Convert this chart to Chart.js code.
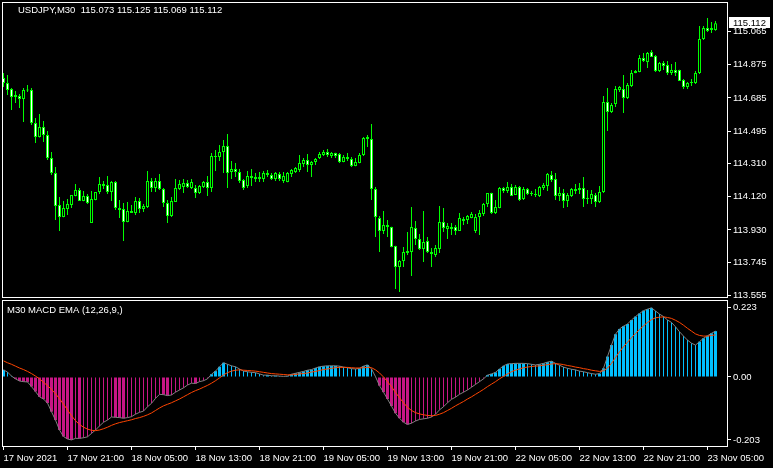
<!DOCTYPE html>
<html><head><meta charset="utf-8">
<script src="https://cdn.jsdelivr.net/npm/chart.js@4.4.1/dist/chart.umd.min.js"></script>
<style>
html,body{margin:0;padding:0;background:#000;overflow:hidden;}
#wrap{position:relative;width:773px;height:468px;background:#000;}
#c1{position:absolute;left:0;top:0;}
#c2{position:absolute;left:0;top:299px;}
</style></head><body>
<div id="wrap"><canvas id="c1" width="773" height="299"></canvas><canvas id="c2" width="773" height="169"></canvas></div>
<script>
const symbolTitle = "USDJPY,M30  115.073 115.125 115.069 115.112";
const macdTitle = "M30 MACD EMA (12,26,9,)";

const open = [
114.799,114.770,114.736,114.690,114.696,114.679,114.730,114.730,114.541,114.461,
114.519,114.473,114.341,114.255,114.073,114.004,114.050,114.073,114.124,114.158,
114.095,114.124,113.970,114.101,114.147,114.193,114.187,114.147,114.204,114.055,
114.050,113.975,114.038,114.027,114.095,114.050,114.061,114.210,114.170,114.210,
114.164,114.084,114.010,114.090,114.164,114.175,114.198,114.170,114.170,114.141,
114.175,114.204,114.170,114.353,114.347,114.376,114.410,114.261,114.278,114.261,
114.215,114.181,114.238,114.221,114.233,114.221,114.255,114.244,114.221,114.250,
114.210,114.204,114.250,114.261,114.273,114.307,114.330,114.301,114.318,114.341,
114.358,114.376,114.353,114.370,114.364,114.318,114.347,114.336,114.295,114.313,
114.358,114.461,114.450,114.164,113.998,113.924,113.958,113.947,113.838,113.718,
113.752,113.798,113.804,113.941,113.878,113.821,113.867,113.804,113.786,113.821,
113.975,113.935,113.947,113.947,113.924,113.992,113.987,113.998,113.924,114.004,
114.021,114.078,114.141,114.027,114.055,114.170,114.153,114.175,114.130,114.175,
114.107,114.164,114.135,114.135,114.124,114.170,114.181,114.244,114.221,114.124,
114.141,114.095,114.124,114.164,114.158,114.170,114.107,114.107,114.130,114.090,
114.147,114.662,114.604,114.650,114.730,114.736,114.685,114.753,114.827,114.833,
114.913,114.890,114.948,114.925,114.839,114.885,114.873,114.827,114.845,114.845,
114.787,114.747,114.770,114.770,114.827,115.022,115.085,115.073,115.073];
const high = [
114.827,114.816,114.742,114.725,114.707,114.742,114.759,114.742,114.570,114.593,
114.553,114.496,114.376,114.290,114.118,114.095,114.107,114.130,114.193,114.170,
114.153,114.135,114.153,114.147,114.233,114.210,114.238,114.210,114.210,114.101,
114.084,114.090,114.073,114.118,114.113,114.078,114.267,114.227,114.227,114.250,
114.170,114.101,114.118,114.221,114.215,114.221,114.215,114.221,114.187,114.187,
114.210,114.238,114.370,114.387,114.416,114.444,114.479,114.324,114.313,114.278,
114.221,114.267,114.278,114.255,114.261,114.267,114.273,114.255,114.261,114.261,
114.261,114.261,114.278,114.290,114.358,114.341,114.364,114.324,114.341,114.376,
114.387,114.393,114.376,114.371,114.370,114.358,114.370,114.347,114.341,114.370,
114.461,114.473,114.536,114.175,114.010,114.038,113.987,113.948,113.839,113.758,
113.832,113.918,114.061,113.981,113.907,114.038,113.889,113.826,113.844,114.067,
114.055,113.970,113.970,113.958,114.027,114.004,114.015,114.032,114.021,114.044,
114.084,114.141,114.142,114.101,114.175,114.175,114.204,114.193,114.187,114.181,
114.175,114.170,114.153,114.164,114.181,114.198,114.255,114.267,114.255,114.175,
114.164,114.141,114.170,114.193,114.198,114.233,114.158,114.158,114.141,114.181,
114.696,114.742,114.656,114.753,114.753,114.816,114.770,114.845,114.845,114.930,
114.942,114.948,114.959,114.930,114.890,114.896,114.896,114.879,114.890,114.846,
114.793,114.776,114.793,114.839,115.096,115.096,115.142,115.119,115.125];
const low = [
114.747,114.702,114.616,114.656,114.627,114.547,114.719,114.530,114.427,114.458,
114.433,114.330,114.244,113.987,113.924,114.003,114.015,114.055,114.123,114.095,
114.094,114.078,113.969,114.100,114.135,114.164,114.135,114.095,114.044,113.998,
113.867,113.974,114.027,114.015,114.027,114.032,114.055,114.147,114.147,114.158,
114.061,113.970,114.004,114.089,114.158,114.141,114.170,114.164,114.113,114.135,
114.170,114.124,114.147,114.267,114.324,114.255,114.170,114.221,114.233,114.198,
114.158,114.170,114.181,114.204,114.204,114.204,114.233,114.215,114.210,114.210,
114.198,114.203,114.233,114.255,114.261,114.290,114.261,114.233,114.301,114.336,
114.353,114.347,114.341,114.341,114.313,114.317,114.324,114.290,114.294,114.312,
114.353,114.404,114.101,113.889,113.804,113.907,113.889,113.831,113.592,113.575,
113.718,113.786,113.666,113.844,113.815,113.746,113.798,113.718,113.775,113.798,
113.918,113.878,113.901,113.901,113.923,113.958,113.964,113.997,113.912,113.901,
114.010,114.061,114.021,114.021,114.054,114.141,114.141,114.124,114.129,114.095,
114.101,114.130,114.124,114.118,114.118,114.158,114.153,114.204,114.101,114.095,
114.055,114.061,114.118,114.135,114.135,114.061,114.078,114.078,114.061,114.084,
114.141,114.496,114.599,114.633,114.719,114.599,114.679,114.747,114.826,114.832,
114.890,114.856,114.919,114.833,114.833,114.845,114.816,114.816,114.810,114.782,
114.736,114.736,114.753,114.765,114.822,115.016,115.062,115.056,115.069];
const close = [
114.770,114.730,114.690,114.702,114.679,114.730,114.728,114.541,114.461,114.519,
114.473,114.341,114.255,114.067,114.004,114.055,114.078,114.130,114.158,114.095,
114.124,114.084,114.107,114.147,114.193,114.181,114.147,114.204,114.055,114.044,
113.975,114.038,114.027,114.095,114.050,114.067,114.210,114.170,114.210,114.164,
114.084,114.010,114.095,114.170,114.193,114.198,114.175,114.204,114.141,114.181,
114.204,114.170,114.353,114.347,114.376,114.410,114.255,114.278,114.261,114.210,
114.170,114.238,114.227,114.233,114.221,114.255,114.244,114.221,114.255,114.221,
114.238,114.255,114.273,114.284,114.313,114.330,114.301,114.318,114.336,114.364,
114.376,114.358,114.370,114.353,114.318,114.347,114.336,114.295,114.318,114.358,
114.456,114.450,114.164,114.004,113.924,113.958,113.947,113.832,113.718,113.752,
113.804,113.809,113.947,113.878,113.821,113.861,113.804,113.792,113.826,113.975,
113.941,113.952,113.935,113.924,113.998,113.981,114.010,114.021,114.004,114.027,
114.078,114.141,114.027,114.061,114.170,114.153,114.175,114.124,114.175,114.101,
114.164,114.135,114.141,114.130,114.175,114.187,114.250,114.215,114.124,114.141,
114.095,114.130,114.164,114.153,114.170,114.107,114.113,114.135,114.090,114.147,
114.662,114.604,114.644,114.736,114.747,114.685,114.759,114.827,114.839,114.913,
114.896,114.942,114.919,114.839,114.885,114.867,114.827,114.845,114.827,114.782,
114.747,114.770,114.776,114.827,115.022,115.085,115.068,115.085,115.112];

const macd = [
0.023,0.016,0.003,-0.006,-0.013,-0.015,-0.016,-0.031,-0.047,-0.064,
-0.071,-0.084,-0.112,-0.139,-0.171,-0.192,-0.200,-0.203,-0.198,-0.198,
-0.196,-0.193,-0.182,-0.171,-0.158,-0.146,-0.139,-0.129,-0.130,-0.131,
-0.133,-0.131,-0.128,-0.120,-0.114,-0.110,-0.096,-0.085,-0.069,-0.056,
-0.057,-0.060,-0.058,-0.049,-0.042,-0.035,-0.026,-0.020,-0.021,-0.015,
-0.012,-0.006,0.009,0.019,0.033,0.046,0.041,0.036,0.033,0.026,
0.019,0.017,0.015,0.014,0.010,0.006,0.006,0.004,0.004,0.003,
0.002,0.003,0.009,0.012,0.015,0.018,0.022,0.024,0.029,0.033,
0.035,0.036,0.036,0.036,0.035,0.032,0.030,0.027,0.026,0.028,
0.035,0.039,0.026,0.001,-0.028,-0.049,-0.071,-0.094,-0.117,-0.133,
-0.146,-0.153,-0.149,-0.142,-0.137,-0.135,-0.133,-0.129,-0.120,-0.106,
-0.096,-0.083,-0.072,-0.065,-0.056,-0.049,-0.042,-0.033,-0.024,-0.015,
-0.006,0.006,0.010,0.015,0.026,0.036,0.042,0.043,0.044,0.044,
0.044,0.043,0.041,0.039,0.041,0.044,0.048,0.051,0.044,0.038,
0.032,0.028,0.025,0.023,0.019,0.017,0.014,0.011,0.009,0.011,
0.028,0.066,0.103,0.138,0.155,0.164,0.171,0.184,0.195,0.205,
0.214,0.219,0.223,0.213,0.203,0.195,0.184,0.176,0.162,0.146,
0.132,0.119,0.109,0.103,0.114,0.125,0.133,0.141,0.148];
const signal = [
0.052,0.046,0.041,0.035,0.029,0.024,0.018,0.011,0.003,-0.006,
-0.017,-0.028,-0.040,-0.054,-0.070,-0.088,-0.106,-0.125,-0.141,-0.153,
-0.162,-0.168,-0.172,-0.173,-0.171,-0.167,-0.162,-0.156,-0.151,-0.147,
-0.144,-0.141,-0.138,-0.134,-0.131,-0.127,-0.122,-0.116,-0.108,-0.100,
-0.093,-0.088,-0.083,-0.077,-0.071,-0.064,-0.057,-0.050,-0.044,-0.039,
-0.033,-0.027,-0.020,-0.012,-0.003,0.007,0.014,0.019,0.022,0.023,
0.022,0.021,0.020,0.019,0.017,0.015,0.013,0.011,0.010,0.009,
0.008,0.007,0.007,0.008,0.010,0.011,0.013,0.016,0.018,0.021,
0.024,0.026,0.028,0.030,0.031,0.031,0.031,0.030,0.029,0.029,
0.030,0.031,0.030,0.023,0.013,0.000,-0.015,-0.031,-0.050,-0.067,
-0.083,-0.098,-0.108,-0.115,-0.119,-0.122,-0.124,-0.125,-0.124,-0.120,
-0.115,-0.108,-0.101,-0.093,-0.086,-0.079,-0.071,-0.064,-0.056,-0.048,
-0.040,-0.031,-0.023,-0.015,-0.006,0.002,0.010,0.017,0.022,0.026,
0.030,0.032,0.034,0.035,0.036,0.038,0.040,0.042,0.043,0.042,
0.040,0.037,0.035,0.032,0.030,0.027,0.025,0.022,0.020,0.018,
0.020,0.029,0.044,0.063,0.081,0.098,0.112,0.127,0.140,0.153,
0.165,0.176,0.185,0.191,0.193,0.194,0.192,0.189,0.183,0.176,
0.167,0.157,0.148,0.139,0.134,0.132,0.132,0.134,0.136];

const priceTicks = [115.065,114.875,114.685,114.495,114.310,114.120,113.930,113.745,113.555];
const macdTicks = [0.223, 0, -0.203];
const macdTickLabels = ["0.223","0.00","-0.203"];
const timeTickIndex = [0,16,32,48,64,80,96,112,128,144,160,176];
const timeTickLabels = ["17 Nov 2021","17 Nov 21:00","18 Nov 05:00","18 Nov 13:00","18 Nov 21:00","19 Nov 05:00","19 Nov 13:00","19 Nov 21:00","22 Nov 05:00","22 Nov 13:00","22 Nov 21:00","23 Nov 05:00"];

const FAMILY = "'Liberation Sans', Arial, sans-serif";
const FSIZE = 9.5;
const FONT = {family: FAMILY, size: FSIZE};
const FONT_CSS = FSIZE + "px " + FAMILY;
const LIME = '#00ff00', CYAN = '#00bfff', MAGENTA = '#c71585';
const X_MIN = -0.375, X_MAX = 180.875;
const idx = close.map((_, i) => i);

function fixAxis(w, h) {
  return function(s) {
    if (w !== null) s.width = w;
    if (h !== null) s.height = h;
    s.paddingLeft = 0; s.paddingRight = 0; s.paddingTop = 0; s.paddingBottom = 0;
  };
}

const topDecor = {
  id: 'topDecor',
  afterDraw(chart) {
    const ctx = chart.ctx, a = chart.chartArea;
    ctx.save();
    ctx.strokeStyle = '#ffffff'; ctx.lineWidth = 1;
    ctx.strokeRect(a.left + 0.5, a.top + 0.5, a.right - a.left, a.bottom - a.top);
    ctx.font = FONT_CSS; ctx.fillStyle = '#ffffff'; ctx.textBaseline = 'middle'; ctx.textAlign = 'left';
    ctx.fillText(symbolTitle, 18, 10);
    const last = close[close.length - 1];
    const y = Math.round(chart.scales.y.getPixelForValue(last));
    ctx.fillStyle = '#ffffff'; ctx.fillRect(a.right + 2, y - 6, 41, 11);
    ctx.fillStyle = '#000000'; ctx.fillText(last.toFixed(3), a.right + 6, y);
    ctx.restore();
  }
};
const botDecor = {
  id: 'botDecor',
  afterDraw(chart) {
    const ctx = chart.ctx, a = chart.chartArea;
    ctx.save();
    ctx.strokeStyle = '#ffffff'; ctx.lineWidth = 1;
    ctx.strokeRect(a.left + 0.5, a.top + 0.5, a.right - a.left, a.bottom - a.top);
    ctx.font = FONT_CSS; ctx.fillStyle = '#ffffff'; ctx.textBaseline = 'middle'; ctx.textAlign = 'left';
    ctx.fillText(macdTitle, 7, a.top + 10);
    ctx.restore();
  }
};

new Chart(document.getElementById('c1'), {
  type: 'bar',
  data: { datasets: [
    { label: 'body', order: 0, grouped: false, barThickness: 3, minBarLength: 1, inflateAmount: 0,
      data: idx.map(i => ({x: i, y: [open[i], close[i]]})),
      backgroundColor: c => (close[c.dataIndex] < open[c.dataIndex] ? '#ffffff' : '#000000'),
      borderColor: LIME, borderWidth: 1, borderSkipped: false },
    { label: 'wick', order: 1, grouped: false, barThickness: 1, inflateAmount: 0,
      data: idx.map(i => ({x: i, y: [low[i], high[i]]})),
      backgroundColor: LIME, borderWidth: 0 }
  ]},
  options: {
    responsive: false, animation: false, devicePixelRatio: 1, events: [],
    layout: { padding: { left: 2, top: 2, right: 0, bottom: 2 } },
    plugins: { legend: { display: false }, tooltip: { enabled: false } },
    scales: {
      x: { type: 'linear', min: X_MIN, max: X_MAX, offset: false, display: false },
      y: { type: 'linear', position: 'right', min: 113.5461, max: 115.2338,
        afterFit: fixAxis(46, null),
        afterBuildTicks: s => { s.ticks = priceTicks.map(v => ({value: v})); },
        ticks: { color: '#ffffff', font: FONT, padding: 2, callback: v => Number(v).toFixed(3) },
        grid: { drawOnChartArea: false, drawTicks: true, tickLength: 4, color: '#ffffff' },
        border: { display: false } }
    }
  },
  plugins: [topDecor]
});

const thick = idx.map(i => {
  if (i === 0) return true;
  return macd[i] >= 0 ? macd[i] >= macd[i - 1] : macd[i] <= macd[i - 1];
});
const histColor = c => (macd[c.dataIndex] >= 0 ? CYAN : MAGENTA);

new Chart(document.getElementById('c2'), {
  type: 'bar',
  data: { datasets: [
    { type: 'line', label: 'signal', order: 0, data: idx.map(i => ({x: i, y: signal[i]})),
      borderColor: '#ff4500', borderWidth: 1, pointRadius: 0, tension: 0, fill: false },
    { type: 'line', label: 'macd', order: 1, data: idx.map(i => ({x: i, y: macd[i]})),
      borderColor: '#808080', borderWidth: 1, pointRadius: 0, tension: 0, fill: false },
    { label: 'thin', order: 2, grouped: false, barThickness: 1, inflateAmount: 0,
      data: idx.map(i => ({x: i, y: thick[i] ? null : macd[i]})),
      backgroundColor: histColor, borderWidth: 0 },
    { label: 'thick', order: 3, grouped: false, barThickness: 3, inflateAmount: 0,
      data: idx.map(i => ({x: i, y: thick[i] ? macd[i] : null})),
      backgroundColor: histColor, borderWidth: 0 }
  ]},
  options: {
    responsive: false, animation: false, devicePixelRatio: 1, events: [],
    layout: { padding: { left: 2, top: 1, right: 0, bottom: 0 } },
    plugins: { legend: { display: false }, tooltip: { enabled: false } },
    scales: {
      x: { type: 'linear', min: X_MIN, max: X_MAX, offset: false,
        afterFit: fixAxis(null, 22),
        afterBuildTicks: s => { s.ticks = timeTickIndex.map(v => ({value: v})); },
        ticks: { color: '#ffffff', font: FONT, padding: 3, align: 'start', autoSkip: false, maxRotation: 0, minRotation: 0,
          callback: (v, i) => timeTickLabels[i] },
        grid: { drawOnChartArea: false, drawTicks: true, tickLength: 4, color: '#ffffff', offset: false },
        border: { display: false } },
      y: { type: 'linear', position: 'right', min: -0.2226, max: 0.2484,
        afterFit: fixAxis(46, null),
        afterBuildTicks: s => { s.ticks = macdTicks.map(v => ({value: v})); },
        ticks: { color: '#ffffff', font: FONT, padding: 2, callback: (v, i) => macdTickLabels[i] },
        grid: { drawOnChartArea: false, drawTicks: true, tickLength: 4, color: '#ffffff' },
        border: { display: false } }
    }
  },
  plugins: [botDecor]
});
</script>
</body></html>
